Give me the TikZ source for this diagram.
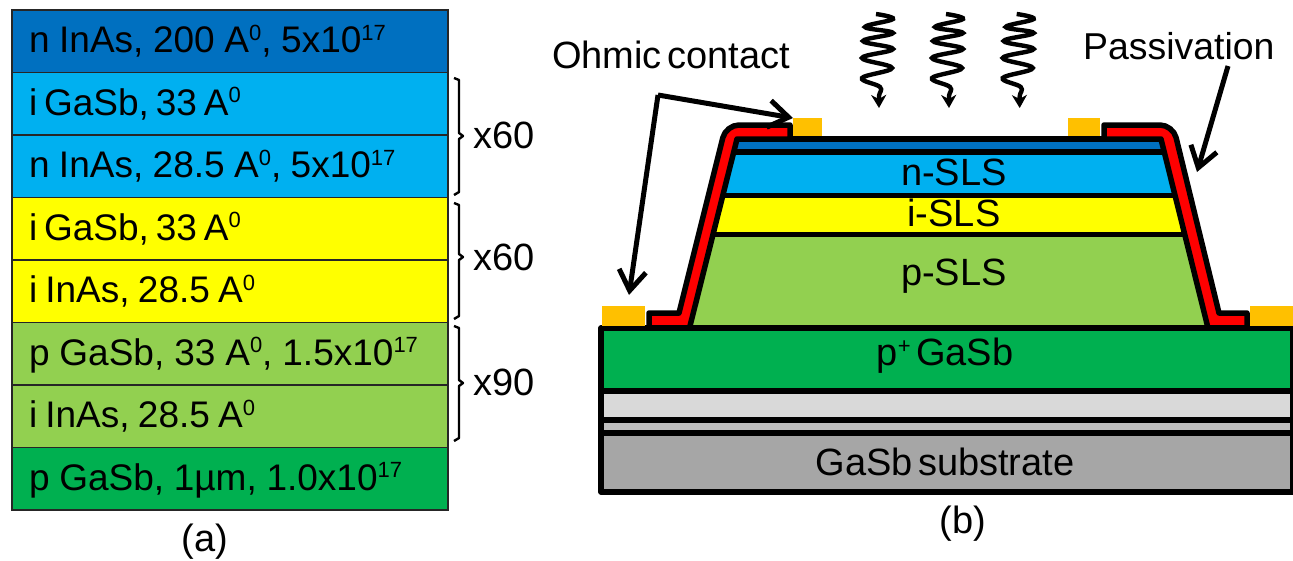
\documentclass[tikz,border=0pt]{standalone}
\usepackage{fontspec}
\setmainfont[WordSpace=0.5]{Liberation Sans}
\usetikzlibrary{arrows.meta}
\definecolor{dblue}{HTML}{0070C0}
\definecolor{cyanb}{HTML}{00B0F0}
\definecolor{yel}{HTML}{FFFF00}
\definecolor{lgreen}{HTML}{92D050}
\definecolor{dgreen}{HTML}{00B050}
\definecolor{gold}{HTML}{FFC000}
\definecolor{lgrey}{HTML}{D9D9D9}
\definecolor{mgrey}{HTML}{BFBFBF}
\definecolor{dgrey}{HTML}{A6A6A6}
\newcommand{\sz}{\frenchspacing\fontsize{37}{39}\selectfont}
\newcommand{\lz}{\frenchspacing\fontsize{38}{40}\selectfont}
\newcommand{\up}[1]{\raisebox{12.5pt}{\fontsize{22}{22}\selectfont #1}}
\newcommand{\wsp}[1]{\spaceskip=#1pt\relax}
\tikzset{
  x=1pt,y=-1pt,
  rowbox/.style={draw=black!85,line width=1.8pt,anchor=north west,minimum height=62.5pt,
    text width=402pt,inner xsep=17pt,inner ysep=0pt,align=flush left,font=\sz,outer sep=0pt,
    text height=30pt,text depth=7.5pt},
  layer/.style={draw=black,line width=5.5pt,line join=round},
  hline/.style={draw=black,line width=5.5pt},
  passiv/.style={draw=black,fill=red,line width=5.5pt,line join=round},
  contact/.style={fill=gold,draw=none,anchor=north west,inner sep=0pt,outer sep=0pt},
  lab/.style={font=\lz,inner sep=0pt},
  brk/.style={draw=black,line width=2.4pt,line join=round},
  pointer/.style={draw=black,line width=5pt,line join=round,-{Straight Barb[length=20pt,width=27pt,line width=5pt]}},
  wavy/.style={draw=black,line width=4.4pt,-{Stealth[length=13pt,width=15pt,inset=4pt]}}
}
\begin{document}
\begin{tikzpicture}
\useasboundingbox (0,0) rectangle (1293,560);
% (a) stack
\node[rowbox,fill=dblue] (r1) at (12,10) {\wsp{9.6}n InAs, 200 A\up{0}, 5x10\up{17}};
\node[rowbox,fill=cyanb] (r2) at (12,72.5) {\wsp{6.9}i GaSb, 33 A\up{0}};
\node[rowbox,fill=cyanb] (r3) at (12,135) {\wsp{9.4}n InAs, 28.5 A\up{0}, 5x10\up{17}};
\node[rowbox,fill=yel] (r4) at (12,197.5) {\wsp{6.9}i GaSb, 33 A\up{0}};
\node[rowbox,fill=yel] (r5) at (12,260) {\wsp{8.2}i InAs, 28.5 A\up{0}};
\node[rowbox,fill=lgreen] (r6) at (12,322.5) {\wsp{9.9}p GaSb, 33 A\up{0}, 1.5x10\up{17}};
\node[rowbox,fill=lgreen] (r7) at (12,385) {\wsp{8.2}i InAs, 28.5 A\up{0}};
\node[rowbox,fill=dgreen] (r8) at (12,447.5) {\wsp{9.7}p GaSb, 1µm, 1.0x10\up{17}};
% brackets
\draw[brk] (454,78) -- (459,80) -- (459,133) -- (463,136) -- (459,139) -- (459,192) -- (454,195);
\draw[brk] (454,203) -- (459,205) -- (459,254) -- (463,257) -- (459,260) -- (459,316) -- (454,319);
\draw[brk] (454,326) -- (459,328) -- (459,380) -- (463,383) -- (459,386) -- (459,438) -- (454,441);
\node[lab,anchor=west] (m1) at (473,135) {x60};
\node[lab,anchor=west] (m2) at (473,257) {x60};
\node[lab,anchor=west] (m3) at (473,382) {x90};
\node[lab] (capa) at (205,542) {(a)};
% (b) mesa colour bands
\fill[lgreen] (689.5,328) -- (713,234) -- (1184,234) -- (1208,328) -- cycle;
\fill[yel] (713,234) -- (723,195) -- (1174,195) -- (1184,234) -- cycle;
\fill[cyanb] (723,195) -- (733.5,152) -- (1164,152) -- (1174,195) -- cycle;
\fill[dblue] (733.5,152) -- (737,139) -- (1161,139) -- (1164,152) -- cycle;
\draw[hline] (713,234.5) -- (1184,234.5);
\draw[hline] (723,195.5) -- (1174,195.5);
\draw[hline] (733.5,152) -- (1164,152);
\draw[hline] (737,139) -- (1161,139);
% passivation
\draw[passiv] (649,328) -- (649,313) -- (679,313) [rounded corners=13pt] -- (726,125) [sharp corners] -- (790,125) -- (790,139) -- (737,139) -- (689.5,328) -- cycle;
\draw[passiv] (1104,125) [rounded corners=13pt] -- (1173,125) [sharp corners] -- (1219,313) -- (1247,313) -- (1247,328) -- (1208,328) -- (1161,139) -- (1104,139) -- cycle;
% (b) base layers
\draw[layer,fill=dgreen] (601,328) rectangle (1293,391);
\draw[layer,fill=lgrey] (601,391) rectangle (1293,420);
\draw[layer,fill=mgrey] (601,420) rectangle (1293,433);
\draw[layer,fill=dgrey] (601,433) rectangle (1293,492);
% contacts
\node[contact,minimum width=29pt,minimum height=18pt] (c1) at (793,118) {};
\node[contact,minimum width=32pt,minimum height=18pt] (c2) at (1068,118) {};
\node[contact,minimum width=43pt,minimum height=20pt] (c3) at (602,306) {};
\node[contact,minimum width=43pt,minimum height=20pt] (c4) at (1250,306) {};
% labels
\node[lab,anchor=west] (ohm) at (552,55) {Ohmic contact};
\node[lab,anchor=west,font=\frenchspacing\fontsize{37.4}{40}\selectfont] (pas) at (1083,46) {Passivation};
\node[lab] (ln) at (954,172) {n-SLS};
\node[lab] (li) at (954,213) {i-SLS};
\node[lab] (lp) at (954,276) {p-SLS};
\node[lab] (lpp) at (945,356) {p\up{+} GaSb};
\node[lab] (lsub) at (945,462) {GaSb substrate};
\node[lab] (capb) at (963,524) {(b)};
% pointers
\coordinate (hub) at (658,95);
\coordinate (pstart) at (1228,66);
\coordinate (ptip) at (1197,172);
\coordinate (ctip) at (629,295);
\draw[pointer] (hub) -- (c1.north west);
\draw[pointer] (hub) -- (ctip);
\draw[pointer] (pstart) -- (ptip);
% light waves
\foreach \dx in {0,70,140.7}{
  \draw[wavy,shift={(\dx,0)}] plot[smooth,tension=0.65] coordinates {(876,14) (893,19) (865,27) (893,33) (863,41) (893,49) (862,58) (892,68) (862,78) (880,87) (879,96) (879,108)};
}
\end{tikzpicture}
\end{document}
